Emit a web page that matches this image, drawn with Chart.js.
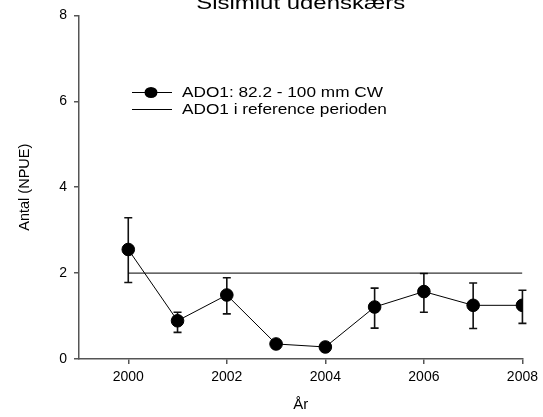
<!DOCTYPE html>
<html>
<head>
<meta charset="utf-8">
<script src="https://cdn.jsdelivr.net/npm/chart.js@4/dist/chart.umd.min.js"></script>
<style>
  html, body { margin: 0; padding: 0; background: #fff; }
  #wrap { width: 543px; height: 417px; }
</style>
</head>
<body>
<div id="wrap"><canvas id="grafico" width="543" height="417"></canvas></div>
<script>
// Data
const titel = 'Sisimiut udenskærs';
const aar = [2000, 2001, 2002, 2003, 2004, 2005, 2006, 2007, 2008];
const npue = [2.55, 0.89, 1.49, 0.35, 0.28, 1.21, 1.57, 1.25, 1.25];
const fejlOver = [3.29, 1.09, 1.89, 0.38, 0.30, 1.65, 1.99, 1.77, 1.60];
const fejlUnder = [1.78, 0.62, 1.05, 0.32, 0.26, 0.72, 1.09, 0.71, 0.83];
const refAar = [2000, 2008];
const refNiveau = [2.0, 2.0];
const xTicks = [2000, 2002, 2004, 2006, 2008];
const yTicks = [0, 2, 4, 6, 8];
const serieNavn = 'ADO1: 82.2 - 100 mm CW';
const refNavn = 'ADO1 i reference perioden';

const akseFarve = '#555';
const STRAEK = 1.23; // the original image is stretched horizontally

// error bars, drawn under the markers
const fejlPlugin = {
    id: 'fejlbarer',
    beforeDatasetsDraw(chart) {
        const { ctx, scales: { x, y } } = chart;
        ctx.save();
        ctx.strokeStyle = '#111';
        ctx.lineWidth = 1.6;
        aar.forEach((a, i) => {
            const px = x.getPixelForValue(a);
            const top = y.getPixelForValue(fejlOver[i]);
            const bund = y.getPixelForValue(fejlUnder[i]);
            ctx.beginPath();
            ctx.moveTo(px, top); ctx.lineTo(px, bund);
            ctx.moveTo(px - 4, top); ctx.lineTo(px + 4, top);
            ctx.moveTo(px - 4, bund); ctx.lineTo(px + 4, bund);
            ctx.stroke();
        });
        ctx.restore();
    }
};

// title (cut at the top) and legend inside the plot
const tekstPlugin = {
    id: 'tekster',
    afterDraw(chart) {
        const { ctx, chartArea } = chart;
        ctx.save();
        ctx.fillStyle = '#000';
        ctx.textBaseline = 'alphabetic';
        ctx.textAlign = 'center';
        ctx.font = '19px "Liberation Sans", Arial, sans-serif';
        ctx.translate((chartArea.left + chartArea.right) / 2, 8.5);
        ctx.scale(1.26, 1);
        ctx.fillText(titel, 0, 0);
        ctx.restore();

        ctx.save();
        ctx.strokeStyle = '#000';
        ctx.fillStyle = '#000';
        ctx.lineWidth = 1;
        // legend row 1
        ctx.beginPath();
        ctx.moveTo(132, 92.5); ctx.lineTo(172, 92.5);
        ctx.stroke();
        ctx.beginPath();
        ctx.ellipse(151, 92.5, 6.5, 5.5, 0, 0, Math.PI * 2);
        ctx.fill();
        // legend row 2
        ctx.beginPath();
        ctx.moveTo(132, 109.5); ctx.lineTo(172, 109.5);
        ctx.stroke();
        ctx.font = '14px "Liberation Sans", Arial, sans-serif';
        ctx.textAlign = 'left';
        ctx.textBaseline = 'middle';
        [[serieNavn, 93], [refNavn, 110]].forEach(([t, ty]) => {
            ctx.save();
            ctx.translate(182, ty);
            ctx.scale(STRAEK, 1);
            ctx.fillText(t, 0, 0);
            ctx.restore();
        });
        ctx.restore();
    }
};

const ctx = document.getElementById('grafico');
new Chart(ctx, {
    type: 'scatter',
    data: {
        datasets: [{
            label: serieNavn,
            data: aar.map((a, i) => ({ x: a, y: npue[i] })),
            showLine: true,
            borderColor: '#000',
            borderWidth: 1,
            backgroundColor: '#000',
            pointRadius: 6.3,
            pointHoverRadius: 6.3,
            order: 1
        }, {
            label: refNavn,
            data: refAar.map((a, i) => ({ x: a, y: refNiveau[i] })),
            showLine: true,
            borderColor: '#000',
            borderWidth: 1,
            pointRadius: 0,
            order: 2
        }]
    },
    options: {
        responsive: false,
        animation: false,
        layout: { padding: { left: 0, right: 18, top: 13, bottom: 0 } },
        plugins: {
            legend: { display: false },
            tooltip: { enabled: false }
        },
        scales: {
            x: {
                type: 'linear',
                min: 1999,
                max: 2008,
                afterBuildTicks: (s) => { s.ticks = xTicks.map(v => ({ value: v })); },
                afterFit: (s) => { s.height = 58; },
                grid: { drawOnChartArea: false, drawTicks: true, tickLength: 5, color: akseFarve, lineWidth: 1.5 },
                border: { color: akseFarve, width: 1.5 },
                ticks: {
                    color: '#000',
                    padding: 5,
                    font: { family: '"Liberation Sans", Arial, sans-serif', size: 14 },
                    callback: (v) => String(v)
                },
                title: {
                    display: true,
                    text: 'År',
                    color: '#000',
                    font: { family: '"Liberation Sans", Arial, sans-serif', size: 15 },
                    padding: { top: 0, bottom: 3 }
                }
            },
            y: {
                min: 0,
                max: 8,
                afterBuildTicks: (s) => { s.ticks = yTicks.map(v => ({ value: v })); },
                afterFit: (s) => { s.width = 79; },
                grid: { drawOnChartArea: false, drawTicks: true, tickLength: 5, color: akseFarve, lineWidth: 1.5 },
                border: { color: akseFarve, width: 1.5 },
                ticks: {
                    color: '#000',
                    padding: 7,
                    font: { family: '"Liberation Sans", Arial, sans-serif', size: 14 }
                },
                title: {
                    display: true,
                    text: 'Antal (NPUE)',
                    color: '#000',
                    font: { family: '"Liberation Sans", Arial, sans-serif', size: 14.5 },
                    padding: { top: 16, bottom: 0 }
                }
            }
        }
    },
    plugins: [fejlPlugin, tekstPlugin]
});
</script>
</body>
</html>
